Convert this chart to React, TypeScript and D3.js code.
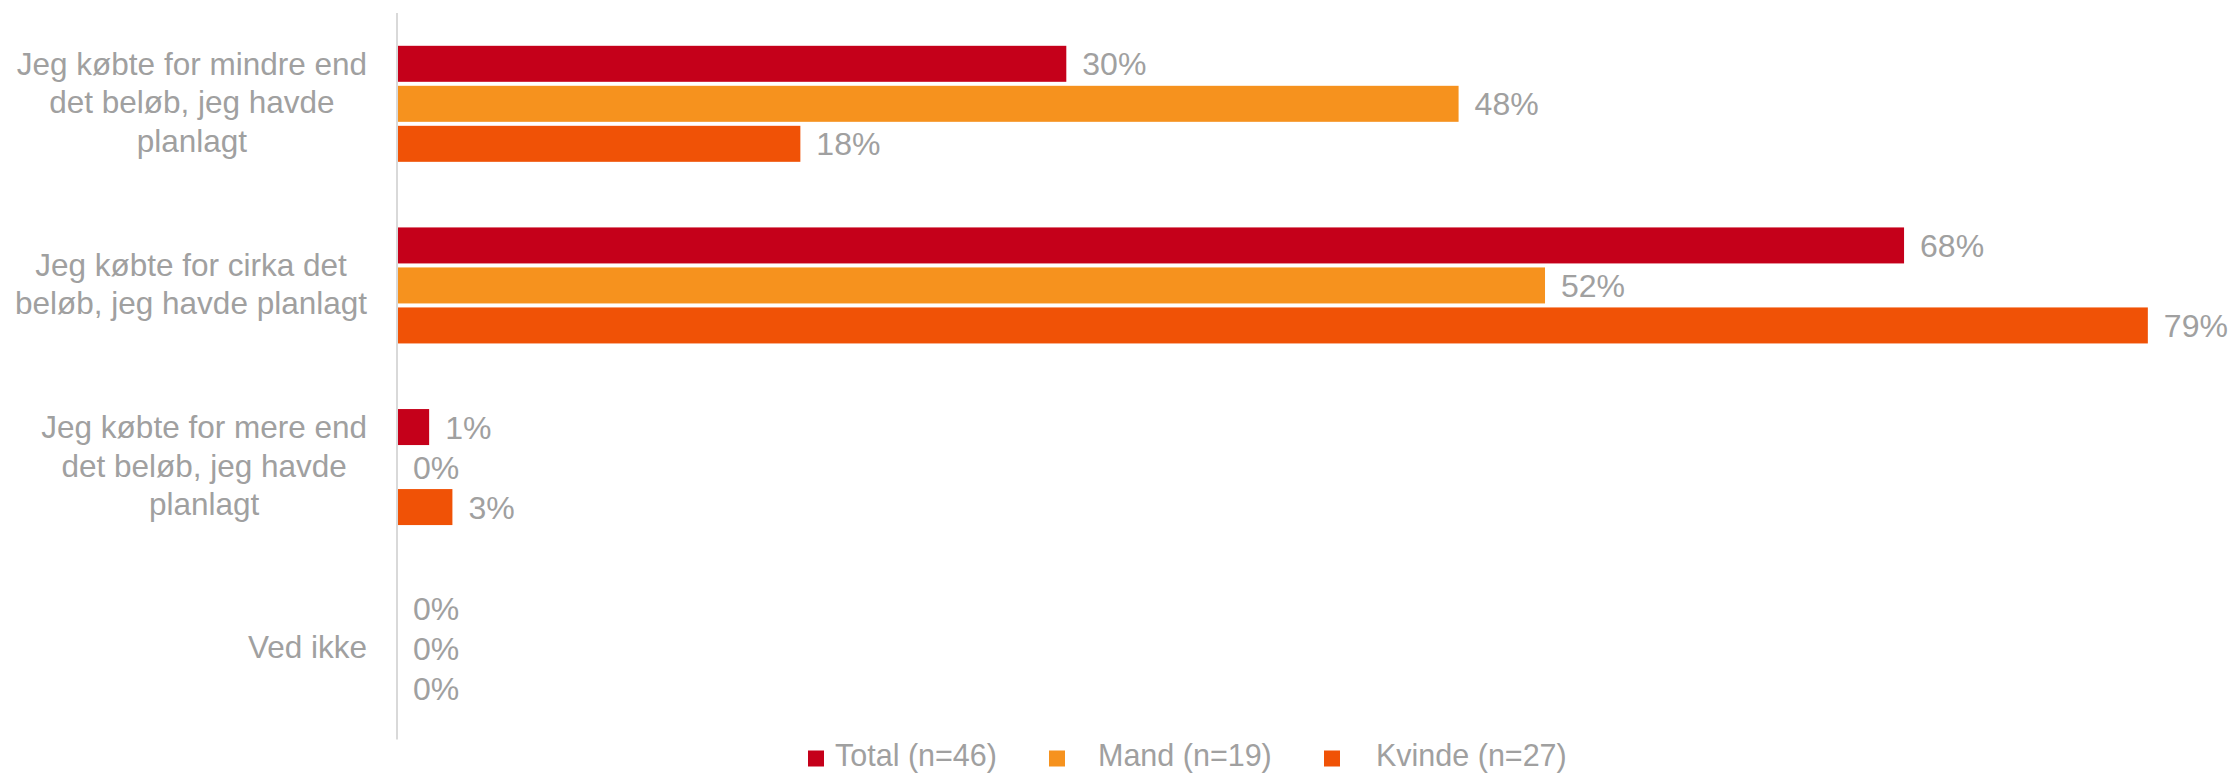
import React, { useRef, useEffect } from 'react';
import * as d3 from 'd3';

// Chart data
const categories = [
  'Jeg købte for mindre end\ndet beløb, jeg havde\nplanlagt',
  'Jeg købte for cirka det\nbeløb, jeg havde planlagt',
  'Jeg købte for mere end\ndet beløb, jeg havde\nplanlagt',
  'Ved ikke',
];
const seriesNames = ['Total (n=46)', 'Mand (n=19)', 'Kvinde (n=27)'];
const totalValues = [30.2, 68.0, 1.45, 0];
const mandValues = [47.9, 51.8, 0, 0];
const kvindeValues = [18.2, 79.0, 2.5, 0];
const seriesColors = ['#C5001A', '#F6921E', '#F05206'];

const App = () => {
  const svgRef = useRef<SVGSVGElement>(null);

  useEffect(() => {
    if (!svgRef.current) return;
    const svg = d3.select(svgRef.current);
    svg.selectAll('*').remove();

    const width = 2231;
    const height = 774;
    const textColor = '#A0A0A0';
    const font = 'Liberation Sans, Arial, sans-serif';

    svg.attr('width', width).attr('height', height).style('background', '#fff');

    const seriesValues = [totalValues, mandValues, kvindeValues];

    // Scales
    const x = d3.scaleLinear().domain([0, 80]).range([397, 2170]);
    const y = d3.scaleBand<string>().domain(categories).range([13, 739.5]);
    const inner = d3.scaleBand<string>()
      .domain(seriesNames)
      .range([0, y.bandwidth()])
      .paddingInner(0.1)
      .paddingOuter(0.82);

    // Bars + value labels
    const groups = svg.append('g')
      .selectAll('g')
      .data(categories)
      .enter()
      .append('g')
      .attr('transform', d => `translate(0,${y(d)})`);

    groups.each(function (cat, ci) {
      const g = d3.select(this);
      seriesNames.forEach((s, si) => {
        const v = seriesValues[si][ci];
        const yy = inner(s)!;
        if (v > 0) {
          g.append('rect')
            .attr('x', x(0))
            .attr('y', yy)
            .attr('width', x(v) - x(0))
            .attr('height', inner.bandwidth())
            .attr('fill', seriesColors[si]);
        }
        g.append('text')
          .attr('x', x(v) + 16)
          .attr('y', yy + inner.bandwidth() / 2)
          .attr('dy', '0.36em')
          .attr('font-family', font)
          .attr('font-size', 32)
          .attr('fill', textColor)
          .text(`${Math.round(v)}%`);
      });
    });

    // Vertical axis line
    svg.append('line')
      .attr('x1', x(0)).attr('x2', x(0))
      .attr('y1', y.range()[0]).attr('y2', y.range()[1])
      .attr('stroke', '#D9D9D9')
      .attr('stroke-width', 2);

    // Category labels: block right aligned, lines centered inside the block
    const labelRight = 367;
    const lineH = 38.5;
    categories.forEach(cat => {
      const lines = cat.split('\n');
      const cy = y(cat)! + y.bandwidth() / 2;
      const texts = lines.map((ln, i) =>
        svg.append('text')
          .attr('y', cy + (i - (lines.length - 1) / 2) * lineH)
          .attr('dy', '0.3em')
          .attr('font-family', font)
          .attr('font-size', 31.5)
          .attr('fill', textColor)
          .attr('text-anchor', 'middle')
          .text(ln)
      );
      const blockW = d3.max(texts, t => (t.node() as SVGTextElement).getComputedTextLength()) || 0;
      texts.forEach(t => t.attr('x', labelRight - blockW / 2));
    });

    // Legend
    const legendX = [808, 1049, 1324];
    const legendTextOffset = [27, 49, 52];
    const legendY = 758.5;
    seriesNames.forEach((s, i) => {
      svg.append('rect')
        .attr('x', legendX[i])
        .attr('y', legendY - 8)
        .attr('width', 16)
        .attr('height', 16)
        .attr('fill', seriesColors[i]);
      svg.append('text')
        .attr('x', legendX[i] + legendTextOffset[i])
        .attr('y', legendY)
        .attr('dy', '0.25em')
        .attr('font-family', font)
        .attr('font-size', 30.5)
        .attr('fill', textColor)
        .text(s);
    });
  }, []);

  return (
    <div style={{ position: 'absolute', left: 0, top: 0 }}>
      <svg ref={svgRef}></svg>
    </div>
  );
};

export default App;
